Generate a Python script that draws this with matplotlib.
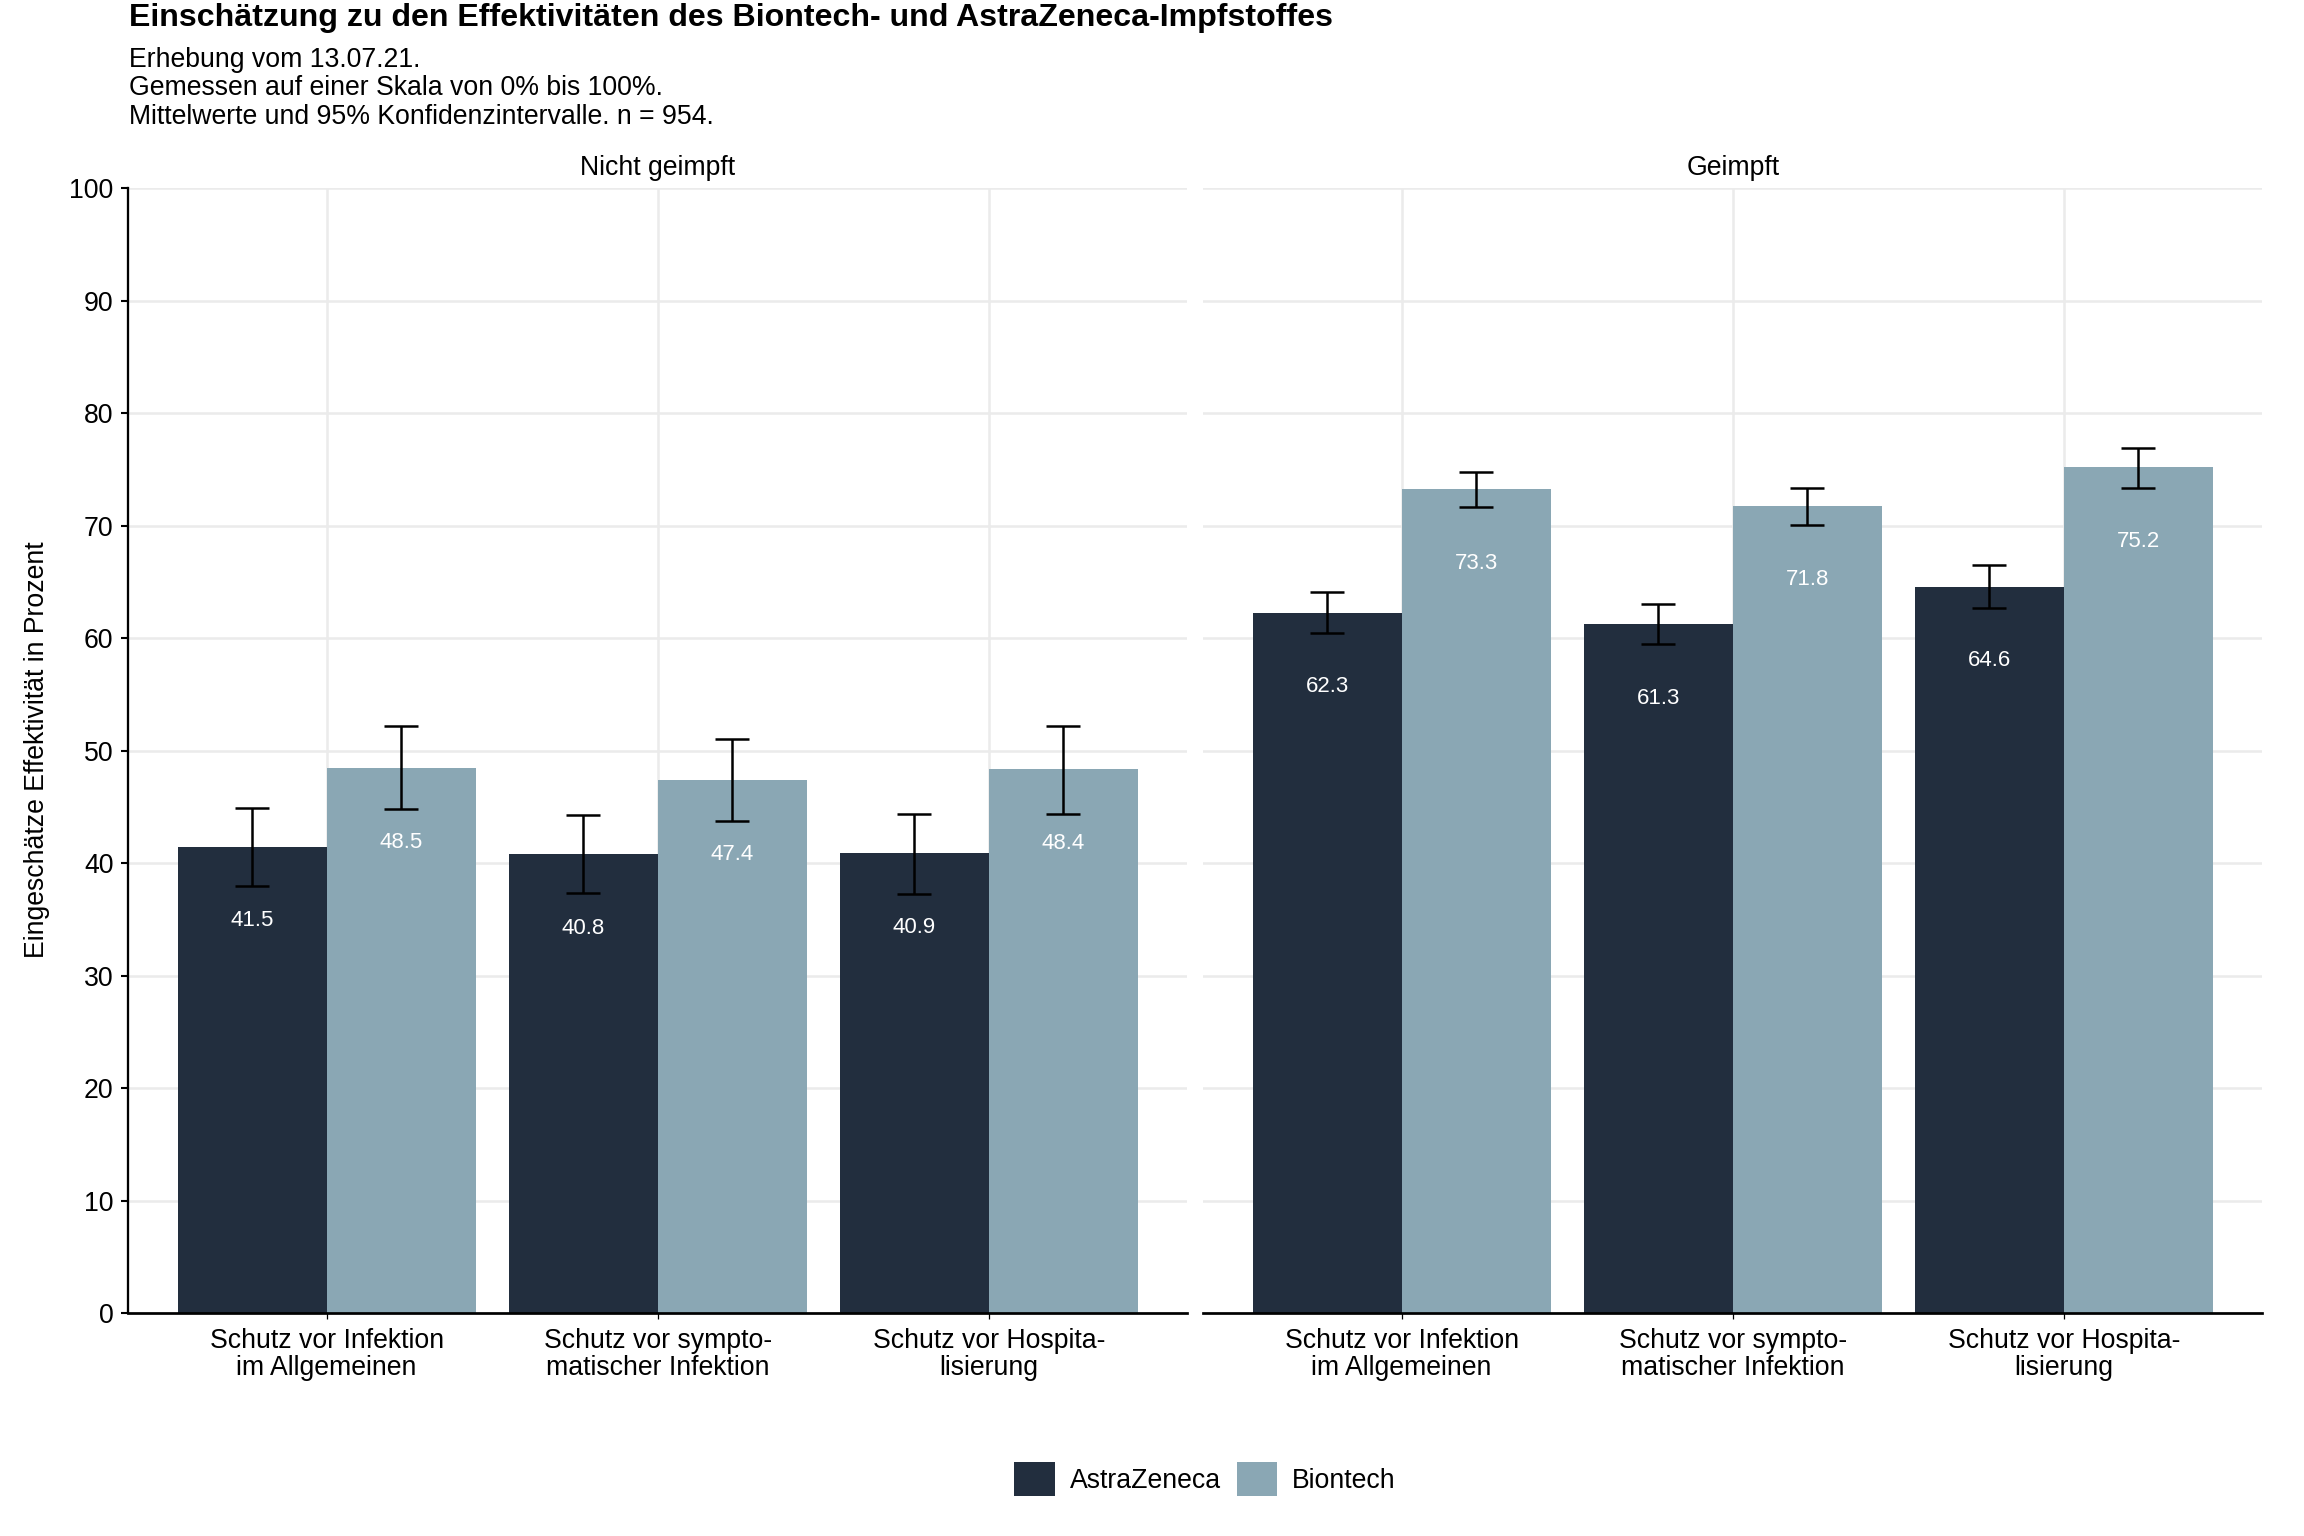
import numpy as np
import matplotlib as mpl
mpl.use('Agg')
from matplotlib import pyplot as plt
from matplotlib.patches import Patch

plt.rcParams['font.family'] = ['Liberation Sans', 'DejaVu Sans']

# data
categories = ["Schutz vor Infektion\nim Allgemeinen",
              "Schutz vor sympto-\nmatischer Infektion",
              "Schutz vor Hospita-\nlisierung"]
panels = ["Nicht geimpft", "Geimpft"]
vaccines = ["AstraZeneca", "Biontech"]

az_nicht = [41.5, 40.8, 40.9]
az_nicht_lo = [38.0, 37.4, 37.3]
az_nicht_hi = [44.9, 44.3, 44.4]
bt_nicht = [48.5, 47.4, 48.4]
bt_nicht_lo = [44.8, 43.8, 44.4]
bt_nicht_hi = [52.2, 51.1, 52.2]

az_geimpft = [62.3, 61.3, 64.6]
az_geimpft_lo = [60.5, 59.5, 62.7]
az_geimpft_hi = [64.1, 63.1, 66.5]
bt_geimpft = [73.3, 71.8, 75.2]
bt_geimpft_lo = [71.7, 70.1, 73.4]
bt_geimpft_hi = [74.8, 73.4, 76.9]

colors = {"AstraZeneca": "#222E3E", "Biontech": "#8AA7B4"}

panel_data = {
    "Nicht geimpft": {"AstraZeneca": (az_nicht, az_nicht_lo, az_nicht_hi),
                      "Biontech": (bt_nicht, bt_nicht_lo, bt_nicht_hi)},
    "Geimpft": {"AstraZeneca": (az_geimpft, az_geimpft_lo, az_geimpft_hi),
                "Biontech": (bt_geimpft, bt_geimpft_lo, bt_geimpft_hi)},
}

fs = 12.8
fig = plt.figure(figsize=(15.36, 10.24), dpi=150)
W, H = 2304, 1536

ax_left = fig.add_axes([128 / W, 0.14499, 0.4598, 0.73229])
ax_right = fig.add_axes([1203 / W, 0.14499, 0.4598, 0.73229])

bar_w = 0.45
x = np.arange(1, len(categories) + 1)

for ax, panel in zip([ax_left, ax_right], panels):
    ax.set_xlim(0.4, 3.6)
    ax.set_ylim(0, 100)
    ax.set_yticks(np.arange(0, 101, 10))
    ax.set_xticks(x)
    ax.set_xticklabels(categories, fontsize=fs, linespacing=1.08)
    ax.grid(True, color='#EBEBEB', lw=1.2, zorder=0)
    ax.set_axisbelow(True)
    for s in ['top', 'right']:
        ax.spines[s].set_visible(False)
    ax.spines['bottom'].set_linewidth(1.3)
    ax.spines['left'].set_linewidth(1.1)
    ax.tick_params(axis='x', length=3, width=0.6, pad=4, colors='black')
    ax.tick_params(axis='y', length=3.4, width=1.0, pad=3.6, labelsize=fs)

    for i, vac in enumerate(vaccines):
        vals, lo, hi = panel_data[panel][vac]
        vals = np.array(vals)
        xs = x + (i - 0.5) * bar_w
        ax.bar(xs, vals, width=bar_w, color=colors[vac], zorder=2)
        yerr = [vals - np.array(lo), np.array(hi) - vals]
        ax.errorbar(xs, vals, yerr=yerr, fmt='none', ecolor='black',
                    elinewidth=1.2, capsize=8.2, capthick=1.2, zorder=3)
        for xx, v in zip(xs, vals):
            ax.text(xx, v - 6.6, f"{v:.1f}", color='white', fontsize=10.7,
                    ha='center', va='center', zorder=4)

    ax.text(0.5, 1 + (188.5 - 175) / (1313 - 188.5), panel, transform=ax.transAxes,
            ha='center', va='baseline', fontsize=fs)

ax_right.spines['left'].set_visible(False)
ax_right.tick_params(axis='y', length=0, labelleft=False)

fig.text(129 / W, 1 - 26 / H,
         "Einschätzung zu den Effektivitäten des Biontech- und AstraZeneca-Impfstoffes",
         fontsize=15.4, fontweight='bold', ha='left', va='baseline')
subtitle = ["Erhebung vom 13.07.21.",
            "Gemessen auf einer Skala von 0% bis 100%.",
            "Mittelwerte und 95% Konfidenzintervalle. n = 954."]
for k, line in enumerate(subtitle):
    fig.text(129 / W, 1 - (66.7 + 28.5 * k) / H, line, fontsize=fs,
             ha='left', va='baseline')

fig.text(37 / W, 0.512, "Eingeschätze Effektivität in Prozent", rotation=90,
         ha='center', va='center', fontsize=fs)

handles = [Patch(facecolor=colors[v], label=v) for v in vaccines]
fig.legend(handles=handles, loc='center', bbox_to_anchor=(1205 / W, 1 - 1479 / H),
           ncol=2, frameon=False, fontsize=fs, handlelength=1.52,
           handleheight=1.56, handletextpad=0.56, columnspacing=0.6)

fig.savefig("out.png", dpi=150)
